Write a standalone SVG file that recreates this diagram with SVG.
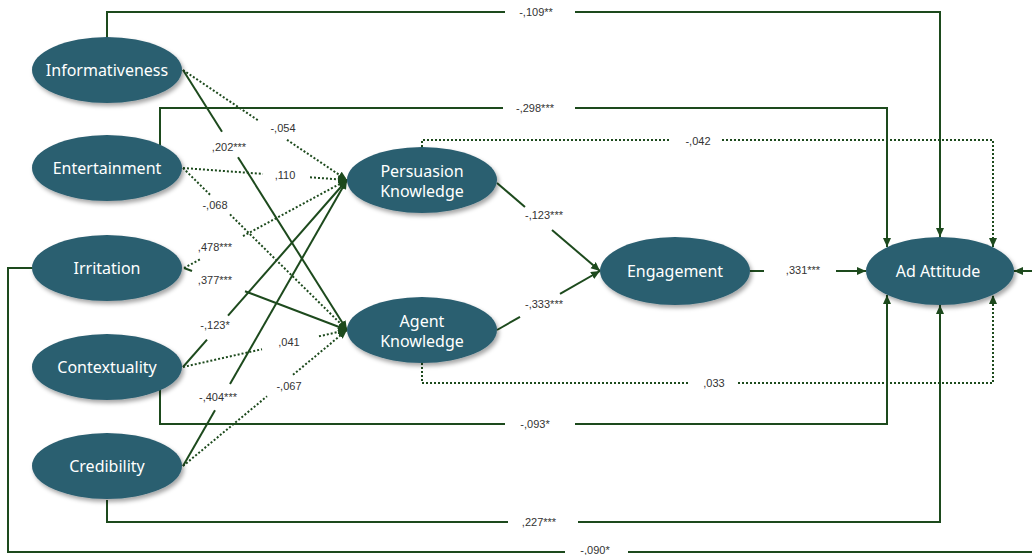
<svg xmlns="http://www.w3.org/2000/svg" width="1032" height="555" viewBox="0 0 1032 555">
<defs>
<marker id="ah" markerUnits="userSpaceOnUse" markerWidth="10" markerHeight="10" refX="9" refY="4" orient="auto">
<path d="M0,0 L9,4 L0,8 z" fill="#1d4a1d"/>
</marker>
<filter id="sh" x="-20%" y="-20%" width="150%" height="160%">
<feDropShadow dx="2" dy="3" stdDeviation="2" flood-color="#000" flood-opacity="0.35"/>
</filter>
<style>
.n ellipse{fill:#2b5e70;filter:url(#sh)}
.n text{fill:#fff;font-family:"Noto Sans","Open Sans",sans-serif;font-size:16px;text-anchor:middle}
.s{fill:none;stroke:#1d4a1d;stroke-width:2}
.d{fill:none;stroke:#1d4a1d;stroke-width:2;stroke-dasharray:2 2}
.a{marker-end:url(#ah)}
.l{font-family:"Liberation Sans",Arial,sans-serif;font-size:11px;fill:#333;text-anchor:middle}
</style>
</defs>
<rect width="1032" height="555" fill="#fff"/>
<g id="connectors">
<path class="s" d="M107,37 V12 H505"/><path class="s a" d="M575,12 H940 V237"/>
<path class="s" d="M160,145 V108 H503"/><path class="s a" d="M575,108 H887 V247"/>
<path class="s" d="M160,390 V424 H505"/><path class="s a" d="M575,424 H887 V295"/>
<path class="s" d="M107,500 V522 H508"/><path class="s a" d="M578,522 H940 V305"/>
<path class="s" d="M33,268 H8 V552 H565"/><path class="s a" d="M628,552 H1045 V271 H1014"/>
<path class="d" d="M422,147 V140 H670"/><path class="d a" d="M722,140 H993 V247"/>
<path class="d" d="M422,363 V383 H690"/><path class="d a" d="M738,383 H993 V295"/>
<path class="d" d="M183,70 L258,120.3"/><path class="d a" d="M287,139.8 L347,180"/>
<path class="s" d="M183,70 L222,131.8"/><path class="s a" d="M238,157.2 L347,330"/>
<path class="d" d="M183,168 L263,173.9"/><path class="d a" d="M310,177.3 L347,180"/>
<path class="d" d="M183,168 L210,194.7"/><path class="d a" d="M230,214.4 L347,330"/>
<path class="d" d="M184,268 L200,259.4"/><path class="d a" d="M243,236.1 L347,180"/>
<path class="s" d="M184,268 L192,271"/><path class="s a" d="M245,291.2 L347,330"/>
<path class="s" d="M183,367 L207,339.6"/><path class="s a" d="M228,315.7 L347,180"/>
<path class="d" d="M183,367 L262,349.2"/><path class="d a" d="M319,336.3 L347,330"/>
<path class="s" d="M183,466 L215,410.2"/><path class="s a" d="M230,384 L347,180"/>
<path class="d" d="M183,466 L267,396.3"/><path class="d a" d="M293,374.8 L347,330"/>
<path class="s" d="M497,183 L525,206.9"/><path class="s a" d="M552,230 L600,271"/>
<path class="s" d="M497,330 L520,316.8"/><path class="s a" d="M560,293.9 L600,271"/>
<path class="s" d="M750,271 H764"/><path class="s a" d="M836,271 H866"/>
<text class="l" x="536" y="16">-,109**</text>
<text class="l" x="535" y="112">-,298***</text>
<text class="l" x="535" y="428">-,093*</text>
<text class="l" x="539" y="526">,227***</text>
<text class="l" x="595" y="554">-,090*</text>
<text class="l" x="698" y="145">-,042</text>
<text class="l" x="714" y="387">,033</text>
<text class="l" x="283" y="132">-,054</text>
<text class="l" x="229" y="151">,202***</text>
<text class="l" x="285" y="179">,110</text>
<text class="l" x="215" y="209">-,068</text>
<text class="l" x="215" y="251">,478***</text>
<text class="l" x="215" y="284">,377***</text>
<text class="l" x="215" y="329">-,123*</text>
<text class="l" x="289" y="346">,041</text>
<text class="l" x="218" y="401">-,404***</text>
<text class="l" x="289" y="390">-,067</text>
<text class="l" x="544" y="219">-,123***</text>
<text class="l" x="544" y="308">-,333***</text>
<text class="l" x="803" y="274">,331***</text>
</g>
<g id="informativeness" class="n"><ellipse cx="107" cy="70" rx="75" ry="33"/><text x="107" y="76">Informativeness</text></g>
<g id="entertainment" class="n"><ellipse cx="107" cy="168" rx="75" ry="33"/><text x="107" y="174">Entertainment</text></g>
<g id="irritation" class="n"><ellipse cx="107" cy="268" rx="75" ry="33"/><text x="107" y="274">Irritation</text></g>
<g id="contextuality" class="n"><ellipse cx="107" cy="367" rx="75" ry="33"/><text x="107" y="373">Contextuality</text></g>
<g id="credibility" class="n"><ellipse cx="107" cy="466" rx="75" ry="33"/><text x="107" y="472">Credibility</text></g>
<g id="persuasion" class="n"><ellipse cx="422" cy="180" rx="75" ry="33"/><text x="422" y="177">Persuasion</text><text x="422" y="197">Knowledge</text></g>
<g id="agent" class="n"><ellipse cx="422" cy="330" rx="75" ry="33"/><text x="422" y="327">Agent</text><text x="422" y="347">Knowledge</text></g>
<g id="engagement" class="n"><ellipse cx="675" cy="271" rx="75" ry="34"/><text x="675" y="277">Engagement</text></g>
<g id="adattitude" class="n"><ellipse cx="940" cy="271" rx="74" ry="34"/><text x="938" y="277">Ad Attitude</text></g>
</svg>
